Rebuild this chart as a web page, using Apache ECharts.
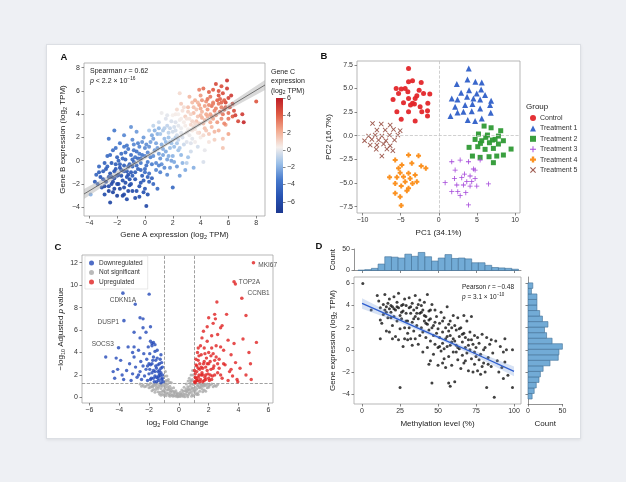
<!DOCTYPE html>
<html>
<head>
<meta charset="utf-8">
<script src="https://cdn.jsdelivr.net/npm/echarts/dist/echarts.min.js"></script>
<style>
  html, body { margin: 0; padding: 0; background: #eef0f4; }
  .card { position: absolute; left: 46px; top: 44px; width: 533px; height: 393px; background: #fff;
          border: 1px solid #dcdfe4; box-shadow: 0 1px 3px rgba(0,0,0,0.08); }
  #chart { position: absolute; left: 0; top: 0; width: 626px; height: 482px; }
</style>
</head>
<body>
<div class="card"></div>
<div id="chart"></div>
<script>
// ---- panel A: gene A vs gene B, colour = gene C  [x, y, c]
const aPoints = [
  [-3.2,-1.4,-5.2],[-3.0,-0.9,-4.8],[-2.8,-1.8,-6.1],[-2.7,-0.5,-4.4],[-2.6,-2.2,-5.8],[-2.5,-1.1,-5.5],[-2.4,-0.2,-4.9],[-2.3,-2.7,-6.3],
  [-2.2,-1.5,-5.9],[-2.1,-0.7,-5.1],[-2.0,0.3,-4.6],[-2.0,-2.0,-6.0],[-1.9,-1.2,-5.6],[-1.8,-0.3,-4.7],[-1.8,-2.4,-6.4],[-1.7,0.6,-4.2],
  [-1.6,-1.7,-5.7],[-1.5,-0.9,-5.0],[-1.5,-2.9,-6.0],[-1.4,0.1,-4.5],[-1.3,-1.4,-5.4],[-1.2,-0.5,-4.8],[-1.1,-2.1,-5.6],[-1.0,0.5,-4.1],
  [-1.0,-1.0,-5.2],[-0.9,-2.6,-5.9],[-0.8,-0.1,-4.4],[-0.7,-1.6,-5.3],[-0.6,0.8,-3.8],[-0.5,-0.7,-4.6],[-0.4,-2.2,-5.4],[-0.3,0.2,-4.0],
  [-0.2,-1.3,-4.9],[0.0,-2.4,-5.2],[0.1,-0.4,-4.0],[0.2,-2.9,-5.5],[0.3,-1.8,-4.8],[-3.5,-1.2,-4.5],[-3.4,-2.0,-5.0],[-2.9,-2.9,-5.7],
  [-2.5,-3.6,-6.2],[0.1,-3.9,-6.0],[-1.3,-3.3,-5.9],[-0.4,-3.1,-5.6],[0.6,-2.0,-4.4],[0.9,-2.4,-4.1],[2.0,-2.3,-4.2],[-3.9,-2.9,-2.0],
  [-2.2,2.6,-3.5],[-2.6,1.9,-3.8],[-1.8,1.5,-3.6],[-1.5,2.2,-3.1],[-1.2,1.0,-3.7],[-0.9,1.8,-3.0],[-0.6,2.5,-2.6],[-0.4,1.2,-3.1],
  [-0.1,2.0,-2.6],[0.2,0.7,-3.0],[0.4,1.6,-2.4],[0.5,-0.3,-3.4],[0.7,0.9,-2.6],[0.9,2.3,-1.9],[1.1,0.2,-2.7],[1.2,1.4,-2.0],
  [1.4,-0.6,-3.0],[1.5,0.8,-2.2],[1.7,2.0,-1.5],[1.9,0.0,-2.4],[2.1,1.2,-1.6],[2.3,-0.5,-2.6],[2.6,0.5,-1.8],[2.9,-0.8,-2.2],
  [3.1,0.3,-1.5],[3.5,-0.6,-2.0],[0.0,1.1,-3.0],[-0.3,-0.2,-3.6],[0.8,-0.8,-3.2],[1.6,-1.2,-3.0],[-0.7,0.3,-3.8],[2.5,-1.3,-2.5],
  [1.0,2.8,-1.8],[-1.0,2.9,-2.8],
  [1.3,2.6,-1.2],[1.6,3.0,-0.8],[1.8,1.6,-1.1],[2.0,2.5,-0.5],[2.2,3.3,-0.2],[2.4,1.8,-0.7],[2.6,2.8,0.1],[2.8,1.4,-0.6],
  [3.0,2.4,0.2],[3.2,3.6,0.6],[3.4,1.9,-0.1],[3.6,2.7,0.5],[3.8,1.2,-0.4],[2.0,3.9,0.3],[1.5,3.6,-0.2],[1.0,3.3,-0.6],
  [0.6,3.0,-0.9],[0.3,2.6,-1.3],[2.7,4.3,0.7],[4.0,2.0,0.4],[4.3,0.9,0.0],[4.6,1.6,0.6],[3.3,0.8,-0.5],[1.2,4.1,0.1],
  [2.5,5.8,0.9],[3.0,-0.2,-1.0],[4.2,-0.1,-0.3],
  [2.9,3.8,1.2],[3.1,4.6,1.6],[3.3,3.1,1.0],[3.5,4.1,1.7],[3.7,3.4,1.5],[3.9,4.8,2.3],[4.1,3.7,2.0],[4.3,2.8,1.6],
  [4.5,4.4,2.6],[4.7,3.3,2.1],[4.9,5.0,3.0],[5.1,3.9,2.7],[5.3,2.6,2.0],[5.5,4.6,3.2],[3.6,5.2,2.1],[4.0,5.6,2.6],
  [4.4,5.1,2.8],[2.6,4.9,1.3],[3.2,5.5,1.8],[4.6,2.3,1.4],[5.0,1.8,1.2],[5.6,1.1,1.5],[5.6,1.9,1.6],[3.9,2.4,1.1],
  [5.8,3.1,2.5],[2.3,4.4,0.9],[6.0,2.3,2.3],[4.8,2.9,1.8],
  [4.2,6.2,3.6],[4.6,5.9,3.9],[4.8,4.7,3.5],[5.1,6.6,4.6],[5.2,5.2,4.0],[5.4,4.2,3.8],[5.6,5.8,4.5],[5.7,4.4,4.2],
  [5.9,6.9,5.2],[6.0,5.4,4.8],[6.1,4.6,4.4],[6.3,3.8,4.0],[6.5,3.9,4.9],[6.7,3.4,4.6],[7.1,3.3,5.6],[7.0,4.0,5.0],
  [8.0,5.1,4.2],[5.3,5.6,4.3],[4.9,6.1,4.1],[3.9,6.1,3.2],[4.5,5.3,3.4],[5.8,5.0,4.6],[6.2,5.6,5.0],
  [-2.9,-0.2,-4.6],[-2.7,0.4,-4.2],[-2.4,-1.4,-5.6],[-2.3,0.9,-4.0],[-2.1,-0.3,-4.8],[-1.9,-2.0,-5.9],[-1.7,-0.8,-5.2],[-1.6,0.2,-4.4],
  [-1.4,-1.9,-5.8],[-1.3,1.3,-3.6],[-1.1,-0.3,-4.6],[-0.9,-1.3,-5.0],[-0.8,0.9,-3.7],[-0.6,-0.4,-4.3],[-0.5,1.5,-3.2],[-0.3,-1.9,-5.2],
  [-0.2,0.5,-3.5],[0.0,-0.7,-4.1],[0.1,1.4,-2.9],[0.3,-1.1,-4.0],[0.4,0.3,-3.2],[0.6,1.9,-2.4],[0.8,-0.2,-3.1],[0.9,1.1,-2.5],
  [1.1,-1.0,-3.3],[1.3,0.5,-2.3],[1.4,1.9,-1.7],[1.6,0.1,-2.4],[1.8,1.1,-1.6],[2.0,0.4,-1.9],[2.2,2.0,-1.1],[2.4,0.9,-1.5],
  [-3.6,-1.8,-5.0],[-3.3,-0.5,-4.3],[-3.1,-2.3,-5.6],[-2.0,-3.0,-6.5],[-1.2,-2.6,-6.1],[-0.7,-3.2,-5.8],[-0.1,-2.7,-5.4],[0.5,-1.5,-4.6],
  [-2.6,-2.6,-6.6],[-1.6,-3.0,-6.3],
  [1.1,2.3,-1.4],[1.4,2.8,-1.0],[1.7,2.4,-0.9],[1.9,3.4,-0.3],[2.1,2.9,-0.4],[2.3,2.2,-0.5],[2.5,3.5,0.2],[2.7,2.0,-0.3],
  [2.9,3.0,0.4],[3.1,2.7,0.3],[3.3,4.0,1.0],[3.5,2.9,0.8],[3.7,4.4,1.4],[3.9,3.2,1.2],[4.1,4.2,1.9],[4.3,3.5,1.7],
  [4.5,3.8,2.0],[4.7,4.0,2.4],[4.9,3.6,2.3],[5.1,4.5,3.1],[5.3,4.9,3.4],[5.5,3.6,2.9],[5.7,5.2,4.0],[6.0,4.1,3.6],
  [6.3,4.9,4.7],[5.9,6.2,4.9],[5.5,6.4,4.4],[4.3,4.7,2.4],[3.4,3.4,1.0],[2.8,4.6,0.8],[2.2,4.0,0.4],[3.8,5.0,1.9],
  [4.2,2.2,0.9],[3.0,1.6,-0.2],[3.6,1.6,0.2],
  [-3.0,-1.6,-5.4],[-2.8,-0.7,-4.9],[-2.6,-1.4,-5.7],[-2.4,-2.0,-6.0],[-2.2,-0.9,-5.3],[-2.0,-1.3,-5.6],[-1.9,0.0,-4.6],[-1.7,-1.3,-5.5],
  [-1.5,-0.4,-4.9],[-1.3,-0.9,-5.1],[-1.1,-1.6,-5.5],[-0.9,-0.5,-4.7],[-0.7,-1.0,-4.9],[-0.5,0.2,-4.1],[-0.3,-0.8,-4.5],[-0.1,-1.7,-5.0],
  [0.2,-1.4,-4.6],[-2.9,-2.2,-6.2],[-2.3,-1.8,-6.0],[-1.5,-2.3,-6.0],[-1.0,-2.0,-5.7],[-0.6,-2.6,-5.6],[-3.3,-1.0,-4.8],[-2.5,0.5,-4.1],
  [-2.1,1.1,-3.8],[-1.4,0.7,-4.1],[-0.9,0.1,-4.2],[-1.8,-0.6,-5.3],[-2.2,-2.4,-6.4],[-1.2,-1.2,-5.4],
  [-0.4,0.6,-3.4],[-0.2,1.6,-2.8],[0.0,0.4,-3.3],[0.2,-0.1,-3.5],[0.3,1.2,-2.8],[0.5,2.2,-2.2],[0.6,0.4,-2.9],[0.8,1.5,-2.3],
  [1.0,0.6,-2.5],[1.2,-0.3,-2.9],[1.3,1.0,-2.1],[1.5,1.6,-1.7],[1.7,0.4,-2.1],[1.9,1.5,-1.5],[2.1,-0.1,-2.2],[2.3,1.5,-1.3],
  [2.5,1.1,-1.2],[2.7,-0.2,-1.9],[0.7,2.6,-1.9],[-0.8,1.4,-3.1],[-1.5,1.2,-3.5],[0.0,-1.0,-4.0],[1.0,-0.4,-3.2],[1.8,-0.6,-2.6],
  [1.8,2.8,-0.7],[2.0,1.8,-0.9],[2.2,2.6,-0.4],[2.4,3.0,-0.1],[2.6,2.4,-0.1],[2.8,3.3,0.4],[3.0,3.6,0.6],[3.2,2.2,0.1],
  [3.4,2.6,0.5],[3.6,3.2,0.9],[3.8,2.4,0.7],[2.4,4.0,0.3],[1.6,3.9,-0.1],[3.1,4.2,1.1],[2.6,3.6,0.4],[3.3,1.5,-0.2],
  [3.8,3.8,1.5],[4.0,4.5,2.2],[4.2,3.2,1.6],[4.4,4.0,2.2],[4.6,4.8,2.9],[4.8,3.8,2.5],[5.0,4.3,3.0],[5.2,3.3,2.6],
  [5.4,5.3,3.9],[5.6,4.0,3.4],[5.8,4.6,4.0],[6.0,3.6,3.4],[4.1,5.2,2.7],[4.7,5.5,3.4],[5.3,6.0,4.3],[3.5,4.6,1.6],
  [4.4,2.6,1.4],[5.0,2.5,1.8],[6.4,4.3,4.5],[5.7,3.2,3.0],[3.4,5.0,1.7],[4.9,4.9,3.2],[4.0,3.9,1.8],[5.5,5.0,3.8]
];
const aFitX = [-4.38, -1, 2, 5, 8.63];
const aFitY = [-2.86, -0.43, 1.73, 3.89, 6.51];
const aBandLo = [-3.28, -0.63, 1.61, 3.71, 6.09];
const aBandHi = [-2.44, -0.23, 1.85, 4.07, 6.93];
const cbMin = -7.3, cbMax = 6;
const cbTicks = [-6, -4, -2, 0, 2, 4, 6];
const cbColors = ['#1c3890', '#2753b2', '#4679cc', '#9abfe8', '#f5efec', '#f3ab90', '#df5b44', '#be1c26'];

// ---- panel B: PCA
const bGroups = ['Control', 'Treatment 1', 'Treatment 2', 'Treatment 3', 'Treatment 4', 'Treatment 5'];
const bControl = [[-3.97,7.11],[-3.97,5.7],[-3.45,5.81],[-2.31,5.63],[-5.59,5.0],[-4.93,4.93],[-4.41,5.0],[-2.58,4.82],[-1.18,4.4],
  [-2.0,4.47],[-5.28,4.47],[-3.97,3.94],[-3.1,3.94],[-6.0,3.84],[-4.63,3.49],[-3.45,3.42],[-1.44,3.42],[-3.2,3.35],[-5.5,2.54],
  [-3.97,2.54],[-2.23,2.54],[-1.48,2.64],[-4.93,1.73],[-3.1,1.55],[-1.48,2.08],[-4.06,4.65],[-2.88,4.23],[-3.71,3.24],[-2.45,3.06]];
const bT1 = [[3.93,7.11],[3.76,5.95],[2.36,5.46],[4.8,5.7],[5.63,5.63],[2.93,4.54],[3.97,4.82],[4.98,4.47],[5.55,4.89],[6.07,4.3],
  [1.7,3.94],[2.45,3.84],[3.71,4.12],[4.54,3.94],[5.42,3.84],[6.86,3.7],[2.14,3.06],[3.45,3.24],[4.41,3.35],[5.42,2.89],[6.72,3.24],
  [1.53,2.08],[2.45,2.46],[3.8,1.65],[4.76,1.55],[5.63,1.83],[6.81,2.43],[3.23,2.54],[4.32,2.6]];
const bT2 = [[5.94,1.02],[6.86,0.84],[8.12,0.53],[5.2,0.18],[6.38,0.07],[7.38,-0.39],[8.47,-0.53],[4.76,-0.39],[5.63,-0.53],[6.64,-0.74],
  [7.82,-0.88],[3.97,-1.23],[5.11,-1.16],[6.07,-1.44],[7.16,-1.34],[9.48,-1.41],[4.41,-2.15],[5.42,-2.29],[6.59,-2.22],[7.6,-2.15],
  [8.47,-2.04],[7.16,-2.85],[6.16,-0.17],[7.03,-0.46],[7.82,-0.04],[5.46,-0.81]];
const bT3 = [[1.7,-2.75],[2.8,-2.57],[3.89,-2.75],[5.42,-2.57],[4.54,-3.52],[2.14,-3.63],[3.36,-4.05],[4.1,-4.26],[2.05,-4.51],
  [3.01,-4.44],[4.76,-4.51],[0.83,-4.96],[2.36,-5.21],[3.23,-5.21],[4.1,-5.32],[4.98,-5.32],[6.51,-5.1],[2.49,-5.92],[3.54,-6.02],
  [2.8,-6.34],[3.89,-7.32],[3.67,-4.86],[4.32,-4.86],[4.76,-3.63],[1.7,-5.92]];
const bT4 = [[-5.72,-2.57],[-3.97,-2.04],[-2.66,-2.11],[-4.85,-3.1],[-3.54,-2.92],[-2.31,-3.2],[-1.7,-3.45],[-5.07,-3.91],[-3.97,-3.98],
  [-3.1,-4.16],[-6.46,-4.4],[-5.5,-4.4],[-4.63,-4.33],[-3.76,-4.51],[-4.41,-4.86],[-3.45,-5.04],[-5.72,-5.04],[-4.93,-5.32],
  [-3.97,-5.56],[-4.19,-5.81],[-5.72,-6.09],[-5.07,-6.44],[-4.93,-7.39],[-2.88,-4.86],[-5.28,-3.45]];
const bT5 = [[-8.69,1.3],[-7.55,1.23],[-6.38,1.13],[-5.07,0.53],[-8.12,0.6],[-7.03,0.6],[-5.94,0.67],[-9.21,-0.04],[-8.34,0.07],
  [-7.47,-0.04],[-6.46,0.07],[-5.37,0.07],[-9.74,-0.53],[-8.78,-0.39],[-7.9,-0.46],[-6.94,-0.53],[-5.81,-0.46],[-9.0,-0.99],
  [-8.12,-0.99],[-7.25,-0.88],[-6.38,-1.06],[-8.21,-1.44],[-6.81,-1.41],[-6.03,-1.58],[-7.47,-2.15]];

// ---- panel C: volcano
const cNS = [[-0.05,0.1],[0.05,0.15],[0.0,0.3],[-0.15,0.2],[0.15,0.25],[-0.25,0.4],[0.25,0.35],[-0.3,0.15],[0.3,0.1],[-0.4,0.55],
  [0.4,0.6],[-0.45,0.2],[0.45,0.3],[-0.5,0.8],[0.5,0.75],[-0.55,0.45],[0.55,0.5],[-0.6,1.0],[0.6,0.95],[-0.65,0.2],[0.65,0.25],
  [-0.7,0.7],[0.7,0.65],[-0.75,1.2],[0.75,1.25],[-0.8,0.4],[0.8,0.45],[-0.85,1.5],[0.85,1.45],[-0.9,0.9],[0.9,0.85],[-0.95,1.9],
  [0.95,2.0],[-0.9,2.3],[0.92,2.4],[-0.7,1.6],[0.7,1.7],[-0.5,1.3],[0.5,1.2],[-0.35,0.85],[0.35,0.9],[-0.2,0.6],[0.2,0.65],
  [-0.1,0.4],[0.1,0.45],[-0.6,0.1],[0.6,0.05],[-0.85,0.15],[0.85,0.1],[-0.95,0.5],[0.95,0.55],[-0.98,1.1],[0.98,1.15],[-0.8,1.9],
  [0.82,2.0],[-0.6,1.35],[0.62,1.45],
  [-1.1,0.3],[1.1,0.35],[-1.2,0.8],[1.2,0.75],[-1.3,1.1],[1.3,1.05],[-1.4,0.5],[1.4,0.55],[-1.5,0.9],[1.5,0.95],[-1.6,1.2],
  [1.6,1.15],[-1.7,0.7],[1.7,0.65],[-1.8,1.0],[1.8,1.05],[-1.9,1.25],[1.9,1.2],[-2.0,0.85],[2.0,0.9],[-2.1,1.15],[2.1,1.1],
  [-2.2,1.0],[2.2,1.2],[-2.4,1.1],[2.4,1.05],[-2.6,1.2],[2.6,1.15],[-1.05,0.6],[1.05,0.65],[-1.15,1.2],[1.15,1.25],[-1.25,0.45],
  [1.25,0.4],[-1.35,0.95],[1.35,0.9],[-1.45,1.25],[1.45,1.2],[-1.55,0.7],[1.55,0.75],[-1.65,1.05],[1.65,1.0],[-1.75,0.95],
  [1.75,1.2],[-2.3,0.95],[2.3,0.95],[-1.1,1.0],[1.1,0.9],[-1.2,0.2],[1.2,0.25],
  [-0.08,0.05],[0.08,0.08],[-0.2,0.1],[0.2,0.12],[-0.12,0.3],[0.12,0.28],[-0.35,0.3],[0.35,0.25],[-0.4,0.1],[0.4,0.05],
  [-0.5,0.6],[0.5,0.55],[-0.55,0.25],[0.55,0.2],[-0.65,0.8],[0.65,0.75],[-0.7,0.35],[0.7,0.4],[-0.75,0.95],[0.75,1.0],
  [-0.8,0.65],[0.8,0.7],[-0.85,1.15],[0.85,1.2],[-0.9,0.3],[0.9,0.25],[-0.95,0.75],[0.95,0.8],[-0.9,1.4],[0.9,1.6],
  [-0.75,1.45],[0.78,1.5],[-1.0,0.2],[1.0,0.15],[-1.1,0.55],[1.1,0.6],[-1.3,0.3],[1.3,0.25],[-1.4,0.8],[1.4,0.85],
  [-1.6,0.45],[1.6,0.5],[-1.8,0.6],[1.8,0.55],[-2.0,1.1],[2.0,1.05],[-1.5,1.1],[1.5,1.1],[-1.7,1.15],[1.7,1.1],
  [-1.9,0.9],[1.9,0.85],[-2.5,1.0],[2.5,1.0],[-1.2,1.05],[1.25,1.05],[-0.3,0.5],[0.3,0.55],[-0.6,0.6],[0.6,0.65]];
const cDown = [[-1.05,1.4],[-1.1,2.0],[-1.15,1.6],[-1.2,2.6],[-1.25,1.9],[-1.3,3.0],[-1.35,1.5],[-1.4,2.3],[-1.45,3.5],[-1.5,1.8],
  [-1.55,2.8],[-1.6,4.1],[-1.65,1.4],[-1.7,2.4],[-1.75,3.3],[-1.8,4.8],[-1.85,1.7],[-1.9,2.9],[-1.95,3.9],[-2.0,2.1],[-2.05,4.5],
  [-2.1,1.5],[-2.15,3.4],[-2.2,2.5],[-2.3,1.9],[-2.35,3.9],[-2.4,2.8],[-2.5,1.6],[-2.55,3.2],[-2.6,2.3],[-2.7,4.2],[-2.8,1.8],
  [-2.9,2.7],[-3.0,3.6],[-3.1,2.1],[-3.2,1.5],[-3.3,3.0],[-3.5,2.4],[-3.7,1.6],[-3.9,3.3],[-4.1,2.5],[-4.3,1.7],[-4.4,2.3],
  [-4.9,3.6],[-3.0,4.5],[-2.6,5.3],[-2.4,6.2],[-1.9,6.3],[-2.2,5.8],[-1.7,4.9],[-1.9,5.0],[-1.8,4.6],[-1.6,4.7],[-2.6,7.1],
  [-2.4,7.0],[-3.0,5.8],[-1.2,1.3],[-1.3,2.1],[-1.4,1.7],[-1.5,2.6],[-1.6,1.9],[-1.7,3.6],[-1.8,2.2],[-1.9,1.6],[-2.0,3.0],
  [-1.1,2.7],[-1.25,3.4],[-1.45,4.2],[-1.3,2.4],[-1.2,3.8],[-2.7,2.0],[-3.4,4.5],[-3.1,4.0],[-2.92,8.3],[-1.99,9.2],[-4.2,3.5],[-3.8,2.0],
  [-1.1,1.7],[-1.2,2.2],[-1.35,1.9],[-1.5,1.4],[-1.6,2.3],[-1.7,1.7],[-1.8,3.0],[-1.95,2.5],[-2.1,2.8],[-1.15,3.1],[-1.4,2.9],[-1.55,3.3]];
const cUp = [[1.05,1.4],[1.1,2.1],[1.15,1.7],[1.2,2.8],[1.25,1.5],[1.3,3.3],[1.35,2.0],[1.4,2.5],[1.45,1.6],[1.5,3.8],[1.55,2.2],
  [1.6,1.4],[1.65,3.0],[1.7,4.4],[1.75,1.8],[1.8,2.7],[1.85,3.5],[1.9,5.0],[1.95,2.1],[2.0,4.0],[2.05,1.5],[2.1,3.2],[2.15,2.5],
  [2.2,5.5],[2.25,1.9],[2.3,3.9],[2.35,2.8],[2.4,7.4],[2.5,4.6],[2.55,8.5],[2.6,2.2],[2.7,3.4],[2.8,6.2],[2.9,1.7],[3.0,4.2],
  [3.1,2.9],[3.2,7.4],[3.3,5.1],[3.4,2.3],[3.5,3.8],[3.6,1.9],[3.7,4.8],[3.8,3.1],[3.9,1.6],[3.95,1.4],[4.1,2.6],[4.3,5.2],
  [4.5,7.3],[4.5,2.0],[4.7,4.0],[4.8,3.0],[4.85,1.6],[5.2,4.9],[1.1,1.3],[1.2,2.3],[1.3,1.8],[1.4,3.0],[1.5,2.7],[1.6,2.0],
  [1.7,3.2],[1.8,1.6],[1.9,2.4],[2.0,3.0],[2.1,2.0],[2.2,4.4],[2.3,2.6],[2.4,3.3],[2.6,5.6],[2.7,2.6],[1.25,4.0],[1.45,4.6],
  [1.55,5.3],[1.35,3.7],[1.65,5.9],[1.9,6.3],[2.0,7.1],[2.3,6.6],[2.9,6.4],[2.5,3.6],[2.8,4.5],[3.0,3.0],[1.15,2.9],[1.05,2.4],
  [1.75,3.9],[2.15,3.7],[3.79,10.1],[2.45,7.0],[3.3,1.5],[3.5,2.5],
  [1.1,1.8],[1.2,1.5],[1.3,2.6],[1.4,1.4],[1.5,2.0],[1.6,2.6],[1.7,1.5],[1.8,2.0],[1.9,3.0],[2.0,1.7],[2.2,1.6],[2.4,2.0],
  [2.6,3.0],[2.8,2.0],[1.15,3.4],[1.3,4.4]];
const cGeneNames = ['MKI67', 'TOP2A', 'CCNB1', 'CDKN1A', 'DUSP1', 'SOCS3'];
const cGenePts = [[5.0,12.0],[3.7,10.3],[4.22,8.84],[-3.75,9.29],[-3.68,6.84],[-4.04,4.43]];
const cFcCut = 1, cPCut = 1.3;

// ---- panel D: methylation vs expression
const dPoints = [[0.5,6.0],[6,3.6],[10,4.9],[11,4.4],[12,3.8],[12,2.7],[12,1.0],[13,2.4],[14,4.1],[15,3.6],[15,5.0],[16,3.9],
  [16,1.7],[17,4.2],[17,2.9],[18,3.7],[18,4.6],[18,1.6],[19,3.4],[19,4.0],[20,2.2],[20,3.9],[21,4.8],[21,3.0],[22,3.6],[22,1.2],
  [23,4.3],[23,2.6],[24,5.1],[24,3.8],[24,0.9],[25,3.1],[25,1.9],[25,-3.4],[26,4.0],[26,2.8],[27,3.5],[27,0.3],[28,4.6],[28,2.0],
  [28,1.0],[29,3.3],[29,4.0],[30,2.6],[30,1.5],[31,3.8],[31,4.7],[31,2.0],[32,3.3],[32,1.0],[33,4.2],[33,2.5],[33,0.4],[34,3.6],
  [34,1.7],[35,4.9],[35,3.0],[35,1.0],[36,2.2],[36,3.8],[37,2.8],[37,0.5],[38,4.5],[38,3.3],[38,1.3],[39,2.0],[39,4.0],[40,3.6],
  [40,1.6],[40,-0.2],[41,2.6],[41,4.3],[42,3.0],[42,1.1],[43,5.0],[43,2.3],[43,0.2],[44,3.5],[44,1.8],[44,-1.3],[45,2.8],[45,0.8],
  [46,4.1],[46,2.0],[46,-3.0],[47,1.3],[47,-0.4],[48,2.5],[48,0.5],[49,3.0],[50,1.9],[50,0.2],[50,-1.4],[51,2.4],[51,1.1],
  [52,-0.1],[52,3.4],[53,1.6],[53,0.6],[54,2.9],[54,-0.8],[55,2.0],[55,1.0],[55,-1.6],[56,3.9],[56,0.3],[57,1.7],[57,-0.6],
  [58,2.6],[58,1.3],[58,-3.3],[59,0.7],[59,-1.4],[60,3.1],[60,1.0],[60,-0.2],[61,2.2],[61,-2.9],[62,0.4],[62,1.8],[63,-0.9],
  [63,2.9],[64,1.2],[64,0.1],[65,-1.7],[65,2.0],[66,0.7],[66,-0.5],[67,1.5],[67,3.1],[68,0.2],[68,-1.0],[69,2.6],[69,-0.3],
  [70,0.9],[70,-1.9],[71,1.6],[71,0.0],[72,3.0],[72,-0.8],[73,0.5],[73,-2.0],[74,1.3],[74,-1.3],[75,0.2],[75,-0.6],[76,1.1],
  [76,-1.9],[77,0.6],[78,-0.4],[78,-2.2],[79,1.4],[80,0.0],[80,-1.2],[81,-2.0],[82,1.1],[82,-3.4],[83,-0.7],[84,0.5],[85,-1.5],
  [86,-0.3],[87,-4.3],[88,0.8],[89,-1.0],[90,-2.0],[91,0.3],[92,-1.6],[93,-0.2],[93,-2.6],[94,1.0],[94,-1.1],[95,0.0],[96,-2.3],
  [99,-3.4],[99,0.0],[14,3.2],[16,3.4],[19,2.9],[21,3.7],[23,3.9],[26,3.4],[27,4.1],[29,2.6],[32,3.9],[34,2.8],[36,3.3],[37,4.1],
  [39,3.4],[41,3.1],[42,2.4],[44,2.7],[45,3.6],[47,2.2],[48,3.6],[49,1.5],[51,0.3],[53,2.6],[54,0.1],[56,1.2],[57,2.3],[59,2.0],
  [61,0.8],[63,0.2],[64,1.9],[66,1.4],[68,1.1],[70,0.4],[72,0.9],[74,-0.2],[77,-0.9],[79,-1.5],[81,0.2],[83,-1.3],[85,0.9],
  [20,1.0],[30,0.9],[57,-3.0],[45,-1.0],[53,-1.2],[62,-0.2],[67,-1.2],[58,0.4]];
const dFitX = [0, 25, 50, 75, 100];
const dFitY = [4.2, 2.68, 1.15, -0.38, -1.95];
const dBandLo = [3.72, 2.44, 0.98, -0.62, -2.4];
const dBandHi = [4.66, 2.92, 1.32, -0.14, -1.5];
const dTopEdges = [-2.65,1.75,6.15,10.55,14.95,19.35,23.75,28.15,32.55,36.95,41.35,45.75,50.15,54.55,58.95,63.35,67.75,72.15,
  76.55,80.95,85.35,89.75,94.15,98.55,102.95];
const dTopCounts = [1,2,5,15,32,31,29,38,33,42,32,22,29,37,28,29,27,18,18,12,7,6,5,3];
const dRightEdges = [-4.45,-3.95,-3.45,-2.95,-2.45,-1.95,-1.45,-0.95,-0.45,0.05,0.55,1.05,1.55,2.05,2.55,3.05,3.55,4.05,4.55,5.05,5.55,6.05];
const dRightCounts = [6,9,12,16,18,22,32,44,45,50,35,27,24,29,21,17,13,13,13,5,7];

// ---------------------------------------------------------------
const FONT = '"Liberation Sans", Arial, Helvetica, sans-serif';
const minus = v => String(v).replace('-', '\u2212');
const rich = {
  i: { fontStyle: 'italic', fontSize: 8, fontFamily: FONT },
  sub: { fontSize: 5.5, lineHeight: 6, verticalAlign: 'bottom', fontFamily: FONT },
  sup: { fontSize: 5, lineHeight: 5, verticalAlign: 'top', fontFamily: FONT }
};

function axis (gridIndex, min, max, ticks, o) {
  o = o || {};
  return {
    type: 'value', gridIndex, min, max,
    position: o.position,
    name: o.name || '', nameLocation: 'middle', nameGap: o.nameGap || 15,
    nameTextStyle: { fontSize: 8, color: '#222', lineHeight: 11, rich },
    splitLine: { show: false },
    axisLine: { show: !!o.line, onZero: false, lineStyle: { color: '#777', width: 0.8 } },
    axisTick: { show: true, length: 2.5, customValues: ticks, lineStyle: { color: '#555', width: 0.7 } },
    axisLabel: {
      show: o.labels !== false, customValues: ticks, fontSize: 7, color: '#333', margin: 4,
      formatter: o.fmt || minus
    }
  };
}

const boxGrid = (left, top, width, height) => ({ left, top, width, height, show: true, borderColor: '#a5a5a5', borderWidth: 0.8 });

function rectHist (vertical) {
  return function (params, api) {
    let p0, p1;
    if (vertical) {
      p0 = api.coord([api.value(0), api.value(2)]);
      p1 = api.coord([api.value(1), 0]);
    } else {
      p0 = api.coord([0, api.value(1)]);
      p1 = api.coord([api.value(2), api.value(0)]);
    }
    return { type: 'rect', shape: { x: p0[0], y: p0[1], width: p1[0] - p0[0], height: p1[1] - p0[1] },
      style: { fill: '#72abd6', stroke: '#3f6f96', lineWidth: 0.6 } };
  };
}

function band (xs, lo, hi, fill) {
  return function (params, api) {
    const pts = xs.map((x, i) => api.coord([x, hi[i]]));
    for (let i = xs.length - 1; i >= 0; i--) pts.push(api.coord([xs[i], lo[i]]));
    return { type: 'polygon', shape: { points: pts }, style: { fill } };
  };
}

const plusPath = 'path://M4.2,0H5.8V4.2H10V5.8H5.8V10H4.2V5.8H0V4.2H4.2Z';
const fatPlusPath = 'path://M3,0H7V3H10V7H7V10H3V7H0V3H3Z';
const xPath = 'path://M1.3,0L5,3.7L8.7,0L10,1.3L6.3,5L10,8.7L8.7,10L5,6.3L1.3,10L0,8.7L3.7,5L0,1.3Z';
const bColors = ['#e3262a', '#2f5fc8', '#2f9a35', '#a03fd8', '#fb8c16', '#9a5348'];
const bSymbols = ['circle', 'triangle', 'rect', plusPath, fatPlusPath, xPath];
const bData = [bControl, bT1, bT2, bT3, bT4, bT5];
const cColors = { down: '#2349b8', ns: '#a9a9a9', up: '#e02020' };
const cLabelPos = [['right', [0, 2]], ['right', [0, 0]], ['right', [1, -5]], ['bottom', [0, -1]], ['left', [0, 2]], ['left', [0, -3]]];

const sc = (name, xi, data, color, size, extra) => Object.assign({
  type: 'scatter', name, xAxisIndex: xi, yAxisIndex: xi, data, symbolSize: size,
  itemStyle: { color }, emphasis: { disabled: true }, silent: true
}, extra || {});

const option = {
  animation: false,
  textStyle: { fontFamily: FONT },
  grid: [
    boxGrid(84, 63, 181, 153),                       // 0 A
    { left: 276, top: 98, width: 7, height: 115 },   // 1 colourbar
    boxGrid(357, 61, 163, 152),                      // 2 B
    boxGrid(82, 255, 191, 148),                      // 3 C
    boxGrid(354, 277, 167, 127),                     // 4 D main
    { left: 354, top: 249, width: 167, height: 21.5 },  // 5 D top hist
    { left: 528, top: 277, width: 34.4, height: 127 }   // 6 D right hist
  ],
  xAxis: [
    axis(0, -4.38, 8.63, [-4, -2, 0, 2, 4, 6, 8], { name: 'Gene A expression (log{sub|2} TPM)', nameGap: 13 }),
    Object.assign(axis(1, 0, 1, []), { show: false }),
    axis(2, -10.73, 10.65, [-10, -5, 0, 5, 10], { name: 'PC1 (34.1%)', nameGap: 14 }),
    axis(3, -6.49, 6.31, [-6, -4, -2, 0, 2, 4, 6], { name: 'log{sub|2} Fold Change', nameGap: 14 }),
    axis(4, -5.3, 104.6, [0, 25, 50, 75, 100], { name: 'Methylation level (%)', nameGap: 14 }),
    axis(5, -5.3, 104.6, [0, 25, 50, 75, 100], { labels: false, line: true }),
    axis(6, 0, 50, [0, 50], { name: 'Count', nameGap: 14, line: true })
  ],
  yAxis: [
    axis(0, -4.75, 8.4, [-4, -2, 0, 2, 4, 6, 8], { name: 'Gene B expression (log{sub|2} TPM)', nameGap: 16 }),
    axis(1, cbMin, cbMax, cbTicks, { position: 'right' }),
    axis(2, -8.17, 7.9, [-7.5, -5, -2.5, 0, 2.5, 5, 7.5], { name: 'PC2 (16.7%)', nameGap: 23, fmt: v => minus(v.toFixed(1)) }),
    axis(3, -0.5, 12.69, [0, 2, 4, 6, 8, 10, 12], { name: '\u2212log{sub|10} Adjusted {i|p} value', nameGap: 14 }),
    axis(4, -4.9, 6.58, [-4, -2, 0, 2, 4, 6], { name: 'Gene expression (log{sub|2} TPM)', nameGap: 14 }),
    axis(5, 0, 50, [0, 50], { name: 'Count', nameGap: 14, line: true }),
    axis(6, -4.9, 6.58, [-4, -2, 0, 2, 4, 6], { labels: false, line: true })
  ],
  visualMap: {
    type: 'continuous', show: false, seriesIndex: 0, dimension: 2,
    min: cbMin, max: cbMax, inRange: { color: cbColors }
  },
  legend: [
    {
      data: bGroups, left: 525, top: 109, orient: 'vertical', itemWidth: 6, itemHeight: 6, itemGap: 2.4,
      textStyle: { fontSize: 7, color: '#333', lineHeight: 8, padding: [0, 0, 0, -1] }, selectedMode: false
    },
    {
      data: ['Downregulated', 'Not significant', 'Upregulated'], left: 85, top: 256, orient: 'vertical',
      itemWidth: 5, itemHeight: 5, itemGap: 1.5, padding: [3, 5, 3, 4],
      borderColor: '#d8d8d8', borderWidth: 0.6, backgroundColor: '#fff',
      textStyle: { fontSize: 6.5, color: '#333', lineHeight: 8 }, selectedMode: false
    }
  ],
  series: [
    // 0 A points (coloured through visualMap)
    sc('A', 0, aPoints, '#888', 4, { itemStyle: { opacity: 0.92 } }),
    { type: 'custom', xAxisIndex: 0, yAxisIndex: 0, data: [[0, 0]], z: 3, silent: true,
      renderItem: band(aFitX, aBandLo, aBandHi, 'rgba(170,170,170,0.45)') },
    { type: 'line', xAxisIndex: 0, yAxisIndex: 0, data: aFitX.map((x, i) => [x, aFitY[i]]), showSymbol: false, z: 4,
      silent: true, lineStyle: { color: '#555', width: 0.8 } },
    { type: 'custom', xAxisIndex: 1, yAxisIndex: 1, data: [[0, 0]], silent: true,
      renderItem: (p, api) => {
        const a = api.coord([0, cbMax]), b = api.coord([1, cbMin]);
        return { type: 'rect', shape: { x: a[0], y: a[1], width: b[0] - a[0], height: b[1] - a[1] },
          style: { fill: new echarts.graphic.LinearGradient(0, 1, 0, 0,
            cbColors.map((c, i) => ({ offset: i / (cbColors.length - 1), color: c }))) } };
      } },
    // B
    ...bGroups.map((g, k) => sc(g, 2, bData[k], bColors[k], k === 1 ? 6 : 5, {
      symbol: bSymbols[k], itemStyle: { color: bColors[k], opacity: 0.95 },
      markLine: k === 0 ? { silent: true, symbol: 'none', label: { show: false },
        lineStyle: { type: 'dashed', color: '#c4c4c4', width: 0.8 }, data: [{ xAxis: 0 }, { yAxis: 0 }] } : undefined
    })),
    // C
    sc('Not significant', 3, cNS, cColors.ns, 3, {
      markLine: { silent: true, symbol: 'none', label: { show: false }, z: 1,
        lineStyle: { type: 'dashed', color: '#888', width: 0.8 },
        data: [{ xAxis: -cFcCut }, { xAxis: cFcCut }, { yAxis: cPCut }] } }),
    sc('Downregulated', 3, cDown, cColors.down, 3.4),
    sc('Upregulated', 3, cUp, cColors.up, 3.4),
    sc('genes', 3, cGeneNames.map((n, i) => ({
      value: cGenePts[i], name: n,
      itemStyle: { color: cGenePts[i][0] > 0 ? cColors.up : cColors.down },
      label: { show: true, formatter: n, position: cLabelPos[i][0], offset: cLabelPos[i][1], distance: 3,
        fontSize: 6.5, color: '#222' }
    })), cColors.up, 3.6),
    // D
    { type: 'custom', xAxisIndex: 4, yAxisIndex: 4, data: [[0, 0]], z: 3, silent: true,
      renderItem: band(dFitX, dBandLo, dBandHi, 'rgba(110,150,215,0.28)') },
    { type: 'line', xAxisIndex: 4, yAxisIndex: 4, data: dFitX.map((x, i) => [x, dFitY[i]]), showSymbol: false, z: 4,
      silent: true, lineStyle: { color: '#2f5fd0', width: 1.3 } },
    sc('D', 4, dPoints, '#111', 3),
    { type: 'custom', xAxisIndex: 5, yAxisIndex: 5, silent: true, renderItem: rectHist(true),
      data: dTopCounts.map((c, i) => [dTopEdges[i], dTopEdges[i + 1], c]) },
    { type: 'custom', xAxisIndex: 6, yAxisIndex: 6, silent: true, renderItem: rectHist(false),
      data: dRightCounts.map((c, i) => [dRightEdges[i], dRightEdges[i + 1], c]) }
  ],
  graphic: [
    ...[['A', 64, 57], ['B', 324, 56], ['C', 58, 247], ['D', 319, 246]].map(t => ({
      type: 'text', x: t[1], y: t[2], style: { text: t[0], font: 'bold 9.5px ' + FONT, fill: '#111', verticalAlign: 'middle', align: 'center' } })),
    { type: 'text', x: 90, y: 71, style: { text: 'Spearman {i|r} = 0.62', fontSize: 7, fontFamily: FONT, fill: '#222', verticalAlign: 'middle',
      rich: { i: { fontStyle: 'italic', fontSize: 7 } } } },
    { type: 'text', x: 90, y: 81, style: { text: '{i|p} < 2.2 \u00d7 10{sup|\u221216}', fontSize: 7, lineHeight: 10, fontFamily: FONT, fill: '#222', verticalAlign: 'middle',
      rich: { i: { fontStyle: 'italic', fontSize: 7, lineHeight: 10 }, sup: { fontSize: 4.8, lineHeight: 5, verticalAlign: 'top' } } } },
    { type: 'text', x: 271, y: 72, style: { text: 'Gene C', fontSize: 7, fontFamily: FONT, fill: '#222', verticalAlign: 'middle' } },
    { type: 'text', x: 271, y: 81.5, style: { text: 'expression', fontSize: 7, fontFamily: FONT, fill: '#222', verticalAlign: 'middle' } },
    { type: 'text', x: 271, y: 91, style: { text: '(log{sub|2} TPM)', fontSize: 7, lineHeight: 9, fontFamily: FONT, fill: '#222', verticalAlign: 'middle',
      rich: { sub: { fontSize: 5, lineHeight: 5, verticalAlign: 'bottom' } } } },
    { type: 'text', x: 526, y: 107, style: { text: 'Group', fontSize: 8, fontFamily: FONT, fill: '#222', verticalAlign: 'middle' } },
    { type: 'text', x: 462, y: 287, style: { text: 'Pearson {i|r} = \u22120.48', fontSize: 6.5, fontFamily: FONT, fill: '#222', verticalAlign: 'middle',
      rich: { i: { fontStyle: 'italic', fontSize: 6.5 } } } },
    { type: 'text', x: 462, y: 297, style: { text: '{i|p} = 3.1 \u00d7 10{sup|\u221210}', fontSize: 6.5, lineHeight: 9, fontFamily: FONT, fill: '#222', verticalAlign: 'middle',
      rich: { i: { fontStyle: 'italic', fontSize: 6.5, lineHeight: 9 }, sup: { fontSize: 4.5, lineHeight: 4.5, verticalAlign: 'top' } } } }
  ]
};

const chart = echarts.init(document.getElementById('chart'), null, { renderer: 'canvas' });
chart.setOption(option);
</script>
</body>
</html>
